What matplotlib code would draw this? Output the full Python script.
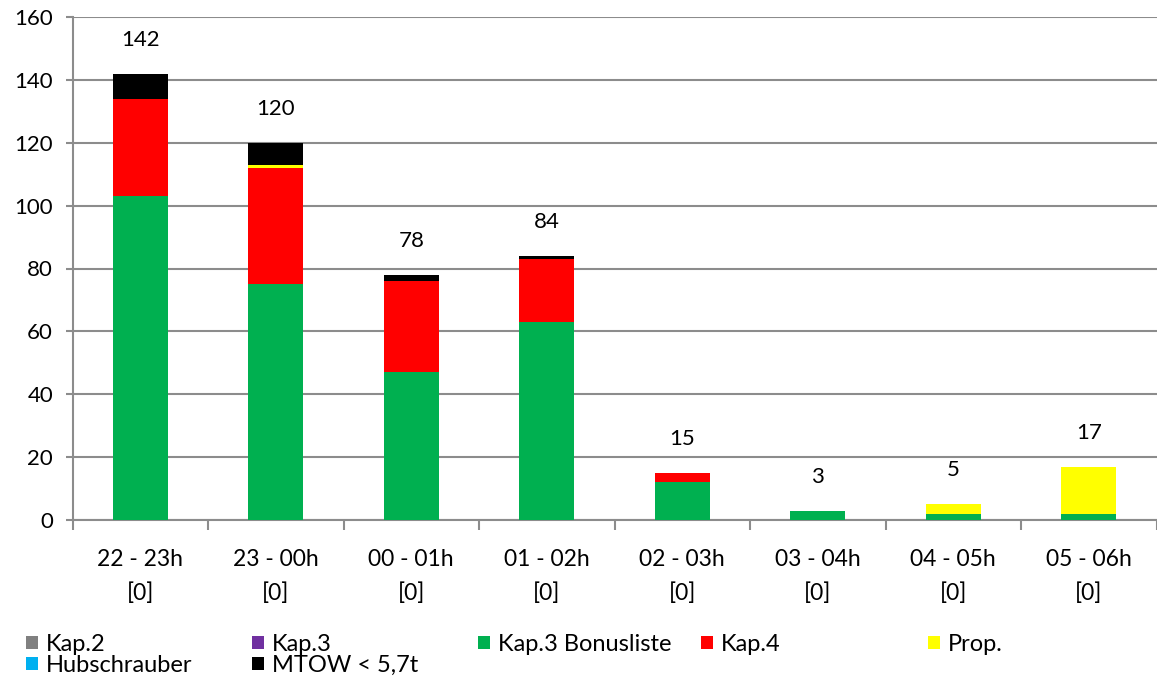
import matplotlib.pyplot as plt
import numpy as np

plt.rcParams['font.family'] = ['Lato', 'DejaVu Sans']

# data
hours = ["22 - 23h", "23 - 00h", "00 - 01h", "01 - 02h", "02 - 03h", "03 - 04h", "04 - 05h", "05 - 06h"]
brackets = ["[0]"] * 8
kap2 = [0, 0, 0, 0, 0, 0, 0, 0]
kap3 = [0, 0, 0, 0, 0, 0, 0, 0]
kap3_bonus = [103, 75, 47, 63, 12, 3, 2, 2]
kap4 = [31, 37, 29, 20, 3, 0, 0, 0]
prop = [0, 1, 0, 0, 0, 0, 3, 15]
hubschrauber = [0, 0, 0, 0, 0, 0, 0, 0]
mtow = [8, 7, 2, 1, 0, 0, 0, 0]

series = [
    ("Kap.2", kap2, "#808080"),
    ("Kap.3", kap3, "#7030A0"),
    ("Kap.3 Bonusliste", kap3_bonus, "#00B050"),
    ("Kap.4", kap4, "#FF0000"),
    ("Prop.", prop, "#FFFF00"),
    ("Hubschrauber", hubschrauber, "#00B0F0"),
    ("MTOW < 5,7t", mtow, "#000000"),
]

fig = plt.figure(figsize=(11.57, 6.82), dpi=100)
# plot area runs off the right edge of the picture, like the original
ax = fig.add_axes([72.5 / 1157, 162 / 682, 1084 / 1157, 503 / 682])

x = np.arange(len(hours))
bottom = np.zeros(len(hours))
handles = {}
for name, vals, col in series:
    vals = np.array(vals, dtype=float)
    b = ax.bar(x, vals, 0.406, bottom=bottom, color=col, label=name, zorder=3)
    handles[name] = b
    bottom += vals

for xi, tot in zip(x, bottom):
    ax.annotate(str(int(tot)), (xi, tot), xytext=(0, 24.5), textcoords="offset points",
                ha="center", va="center", fontsize=16)

grid_col = "#8c8c8c"
ax.set_xlim(-0.5, len(hours) - 0.5)
ax.set_ylim(0, 160)
ax.set_yticks(np.arange(0, 161, 20))
ax.yaxis.grid(True, color=grid_col, linewidth=1.5, zorder=0)
ax.set_axisbelow(True)

ax.set_xticks(x)
ax.set_xticklabels([h + "\n" + b for h, b in zip(hours, brackets)], fontsize=16.5, linespacing=1.7)
ax.set_xticks(np.arange(-0.5, len(hours)), minor=True)
ax.tick_params(axis="x", which="major", length=0, pad=21)
ax.tick_params(axis="x", which="minor", length=7, width=1.5, color=grid_col, direction="out")
ax.tick_params(axis="y", length=5, width=1.5, color=grid_col, labelsize=16, pad=9)

for s in ["top", "right"]:
    ax.spines[s].set_visible(False)
for s in ["left", "bottom"]:
    ax.spines[s].set_color(grid_col)
    ax.spines[s].set_linewidth(1.5)

# legend, one legend per column so the columns sit at fixed spots
cols = [["Kap.2", "Hubschrauber"], ["Kap.3", "MTOW < 5,7t"], ["Kap.3 Bonusliste"], ["Kap.4"], ["Prop."]]
col_x = [26, 252, 478, 701, 928]
for names, cx in zip(cols, col_x):
    fig.legend([handles[n] for n in names], names, loc="upper left",
               bbox_to_anchor=(cx / 1157, 1 - 634 / 682), frameon=False,
               fontsize=17, handlelength=0.5, handleheight=0.5, handletextpad=0.35,
               labelspacing=0.0, borderpad=0, borderaxespad=0)

fig.savefig("out.png", dpi=100)
